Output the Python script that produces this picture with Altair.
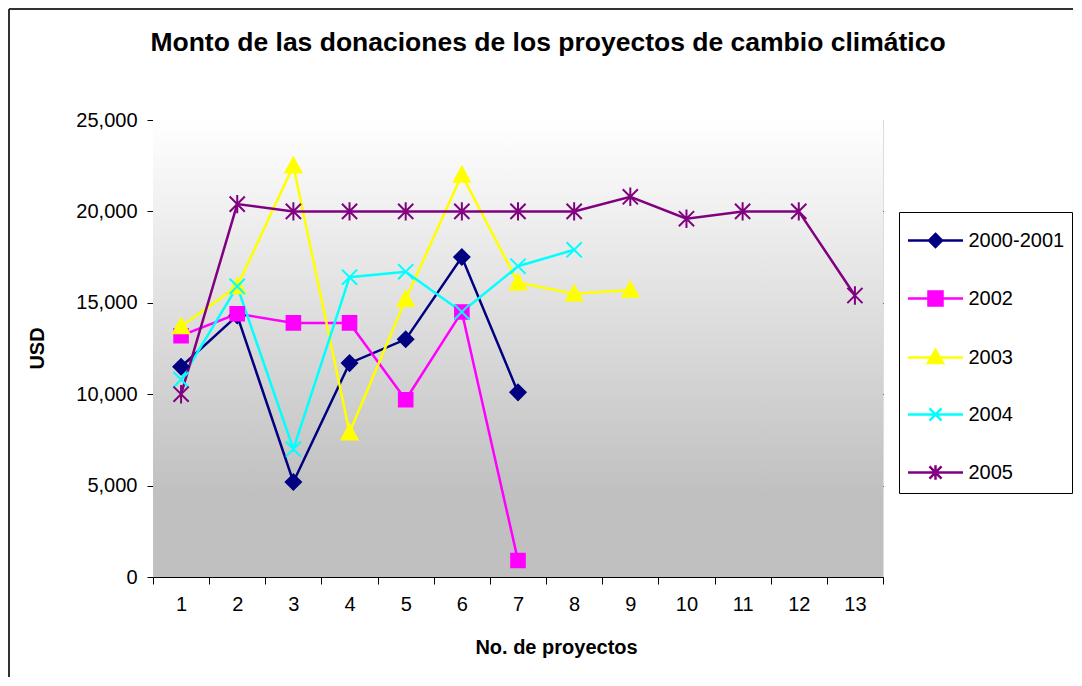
import altair as alt
import pandas as pd

# ---- data ----
projects = list(range(1, 14))
series_names = ["2000-2001", "2002", "2003", "2004", "2005"]
s_2000_2001 = [11500, 14300, 5200, 11700, 13000, 17500, 10100]
s_2002 = [13200, 14400, 13900, 13900, 9700, 14500, 900]
s_2003 = [13700, 15900, 22500, 7900, 15200, 22000, 16100, 15500, 15700]
s_2004 = [10800, 15900, 7000, 16400, 16700, 14500, 17000, 17900]
s_2005 = [10000, 20400, 20000, 20000, 20000, 20000, 20000, 20000, 20800, 19600, 20000, 20000, 15400]
y_ticks = [0, 5000, 10000, 15000, 20000, 25000]

colors = ["#000080", "#ff00ff", "#ffff00", "#00ffff", "#800080"]

all_series = [s_2000_2001, s_2002, s_2003, s_2004, s_2005]
rows = []
for name, vals in zip(series_names, all_series):
    for i, v in enumerate(vals):
        rows.append({"x": projects[i], "value": v, "series": name})
df = pd.DataFrame(rows)

FONT = "Liberation Sans"

# marker shapes for data points
marker_paths = [
    "M0,-0.95L0.95,0L0,0.95L-0.95,0Z",
    "M-0.85,-0.85H0.85V0.85H-0.85Z",
    "M0,-1L1,0.85L-1,0.85Z",
    "M-0.95,-0.95L0.95,0.95M-0.95,0.95L0.95,-0.95",
    "M-0.95,-0.95L0.95,0.95M-0.95,0.95L0.95,-0.95M0,-1.15V1.15",
]
# legend symbols: a line with the marker in its middle
line_part = "M-1,0H1.82"
legend_paths = [
    line_part + "M0.41,-0.333L0.743,0L0.41,0.333L0.077,0Z",
    line_part + "M0.05,-0.36H0.77V0.36H0.05Z",
    line_part + "M0.41,-0.385L0.795,0.28L0.025,0.28Z",
    line_part + "M0.1,-0.31L0.72,0.31M0.1,0.31L0.72,-0.31",
    line_part + "M0.1,-0.31L0.72,0.31M0.1,0.31L0.72,-0.31M0.41,-0.37V0.37",
]

x_enc = alt.X(
    "x:O",
    scale=alt.Scale(type="band", domain=projects, paddingInner=0, paddingOuter=0),
    axis=alt.Axis(
        title="No. de proyectos",
        labelAngle=0,
        tickBand="extent",
        tickSize=7,
        tickColor="black",
        domainColor="black",
        labelPadding=10,
        labelFontSize=20,
        labelFont=FONT,
        labelColor="black",
        titleFont=FONT,
        titleFontSize=20,
        titleFontWeight="bold",
        titleColor="black",
        titleX=403,
        titleY=76,
        titleAlign="center",
        titleBaseline="alphabetic",
        grid=False,
    ),
)
y_scale = alt.Scale(domain=[0, 25000], nice=False)
y_enc = alt.Y(
    "value:Q",
    scale=y_scale,
    axis=alt.Axis(
        title="USD",
        values=y_ticks,
        format=",.0f",
        tickSize=6,
        tickColor="black",
        domainColor="#404040",
        labelPadding=10,
        labelFontSize=20,
        labelFont=FONT,
        labelColor="black",
        titleFont=FONT,
        titleFontSize=20,
        titleFontWeight="bold",
        titleColor="black",
        titleX=-110,
        titleY=228,
        titleAlign="center",
        titleBaseline="alphabetic",
        grid=True,
        gridColor=alt.condition("datum.value >= 25000", alt.value("#c0c0c0"), alt.value("black")),
        gridWidth=1,
        gridOpacity=1,
    ),
)

base = alt.Chart(df)

background = base.mark_rect(
    color=alt.Gradient(
        gradient="linear",
        stops=[
            alt.GradientStop(color="#ffffff", offset=0),
            alt.GradientStop(color="#c0c0c0", offset=0.82),
            alt.GradientStop(color="#c0c0c0", offset=1),
        ],
        x1=0, x2=0, y1=0, y2=1,
    )
).encode(x=alt.value(0), x2=alt.value("width"), y=alt.value(0), y2=alt.value("height"))

lines = base.mark_line(strokeWidth=2.5).encode(
    x=x_enc,
    y=y_enc,
    color=alt.Color("series:N", scale=alt.Scale(domain=series_names, range=colors), legend=None),
    detail="series:N",
)

points = base.mark_point(filled=True, size=256, strokeWidth=2, opacity=1).encode(
    x=alt.X("x:O"),
    y=alt.Y("value:Q"),
    fill=alt.Fill("series:N", scale=alt.Scale(domain=series_names, range=colors), legend=None),
    stroke=alt.Stroke("series:N", scale=alt.Scale(domain=series_names, range=colors), legend=None),
    shape=alt.Shape("series:N", scale=alt.Scale(domain=series_names, range=marker_paths), legend=None),
)

leg = alt.Legend(
    title=None,
    orient="none",
    legendX=746,
    legendY=92,
    symbolSize=1521,
    symbolStrokeWidth=2.5,
    labelFont=FONT,
    labelFontSize=20,
    labelColor="black",
    labelOffset=20,
    padding=7.5,
    rowPadding=25,
    strokeColor="black",
    fillColor="white",
    cornerRadius=0,
)

legend_layer = base.transform_filter("false").mark_point(filled=True, strokeWidth=2.5, opacity=1).encode(
    x=alt.X("x:O"),
    y=alt.Y("value:Q"),
    fill=alt.Fill("series:N", scale=alt.Scale(domain=series_names, range=colors), legend=leg),
    stroke=alt.Stroke("series:N", scale=alt.Scale(domain=series_names, range=colors), legend=leg),
    shape=alt.Shape("series:N", scale=alt.Scale(domain=series_names, range=legend_paths), legend=leg),
)

frame_left = base.mark_rule(color="#333333", strokeWidth=1.5).encode(
    x=alt.value(-144), y=alt.value(-111), y2=alt.value(600)
)
frame_top = base.mark_rule(color="#333333", strokeWidth=1.5).encode(
    x=alt.value(-144), x2=alt.value(960), y=alt.value(-111)
)

chart = (
    alt.layer(background, lines, points, legend_layer, frame_left, frame_top)
    .resolve_scale(fill="independent", stroke="independent", shape="independent")
    .properties(
        width=730,
        height=457,
        autosize="none",
        padding={"left": 145, "top": 112, "right": 190, "bottom": 100},
        title=alt.TitleParams(
            "Monto de las donaciones de los proyectos de cambio climático",
            font=FONT,
            fontSize=26.5,
            fontWeight="bold",
            color="black",
            anchor="middle",
            frame="group",
            dx=30,
            dy=69,
            offset=0,
            baseline="alphabetic",
        ),
    )
    .configure_view(stroke="#c0c0c0", strokeWidth=2)
    .configure(background="white")
)

chart.save("out.html", embed_options={"renderer": "svg", "actions": False})
